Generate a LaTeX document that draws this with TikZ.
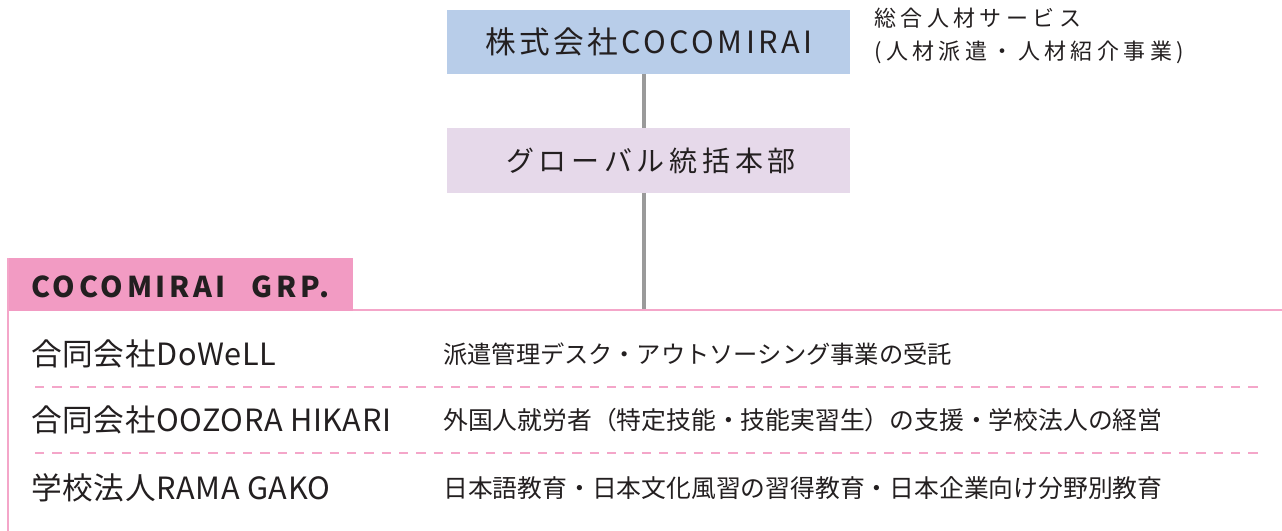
\documentclass[tikz,border=0pt]{standalone}
\usepackage{fontspec}
\setmainfont{Noto Sans CJK JP}
\newfontfamily\jpA[LetterSpace=11]{Noto Sans CJK JP}
\newfontfamily\jpB[LetterSpace=17]{Noto Sans CJK JP}
\newfontfamily\jpC[LetterSpace=20]{Noto Sans CJK JP}
\newfontfamily\jpG[LetterSpace=13]{Noto Sans CJK JP}
\newfontfamily\jpD[LetterSpace=2]{Noto Sans CJK JP}
\definecolor{boxblue}{HTML}{B8CDE9}
\definecolor{boxpurple}{HTML}{E6D9EA}
\definecolor{tabpink}{HTML}{F29BC3}
\definecolor{linepink}{HTML}{F4A6C9}
\definecolor{linegray}{HTML}{9A9A9A}
\definecolor{txt}{HTML}{231F20}
\begin{document}
\begin{tikzpicture}[x=0.75pt,y=-0.75pt,
  box/.style={inner sep=0pt, text=txt},
  jtext/.style={inner sep=0pt, anchor=west, text=txt},
  conn/.style={draw=linegray, line width=2.6pt}]
\useasboundingbox (0,0) rectangle (1282,531);
% top boxes
\fill[boxblue] (447,10) rectangle (850,74);
\fill[boxpurple] (447,128) rectangle (850,193);
\node[box] (head) at (649,42) {\jpA\fontsize{23pt}{26pt}\selectfont 株式会社COCOMIRAI};
\node[box] (glob) at (651,161) {\jpB\fontsize{21pt}{24pt}\selectfont グローバル統括本部};
\coordinate (headb) at (644,74);
\coordinate (globt) at (644,128);
\coordinate (globb) at (644,193);
\coordinate (grpt) at (644,310);
\draw[conn] (headb) -- (globt);
\draw[conn] (globb) -- (grpt);
% side note
\node[jtext, anchor=north west, align=left, font=\jpC\fontsize{16.5pt}{24.5pt}\selectfont] (note) at (874,8)
  {総合人材サービス\\(人材派遣・人材紹介事業)};
% group frame
\fill[tabpink] (8,258) rectangle (353,310.5);
\draw[linepink, line width=1.6pt] (8,258) -- (8,531);
\draw[linepink, line width=1.6pt] (353,310) -- (1282,310);
\node[jtext] (grp) at (31,287) {\jpG\fontsize{21.5pt}{24pt}\selectfont\bfseries COCOMIRAI\hspace{0.9em}GRP.};
% rows
\draw[linepink, line width=1.5pt, dash pattern=on 7pt off 6pt] (35,386.5) -- (1262,386.5);
\draw[linepink, line width=1.5pt, dash pattern=on 7pt off 6pt] (35,453) -- (1262,453);
\node[jtext] (n1) at (31,354) {\jpD\fontsize{23pt}{26pt}\selectfont 合同会社DoWeLL};
\node[jtext] (n2) at (31,420) {\jpD\fontsize{23pt}{26pt}\selectfont 合同会社OOZORA HIKARI};
\node[jtext] (n3) at (31,488) {\jpD\fontsize{23pt}{26pt}\selectfont 学校法人RAMA GAKO};
\node[jtext] (d1) at (443,354) {\fontsize{18.2pt}{24pt}\selectfont 派遣管理デスク・アウトソーシング事業の受託};
\node[jtext] (d2) at (443,420) {\fontsize{18.6pt}{24pt}\selectfont 外国人就労者（特定技能・技能実習生）の支援・学校法人の経営};
\node[jtext] (d3) at (443,488) {\fontsize{18.6pt}{24pt}\selectfont 日本語教育・日本文化風習の習得教育・日本企業向け分野別教育};
\end{tikzpicture}
\end{document}
